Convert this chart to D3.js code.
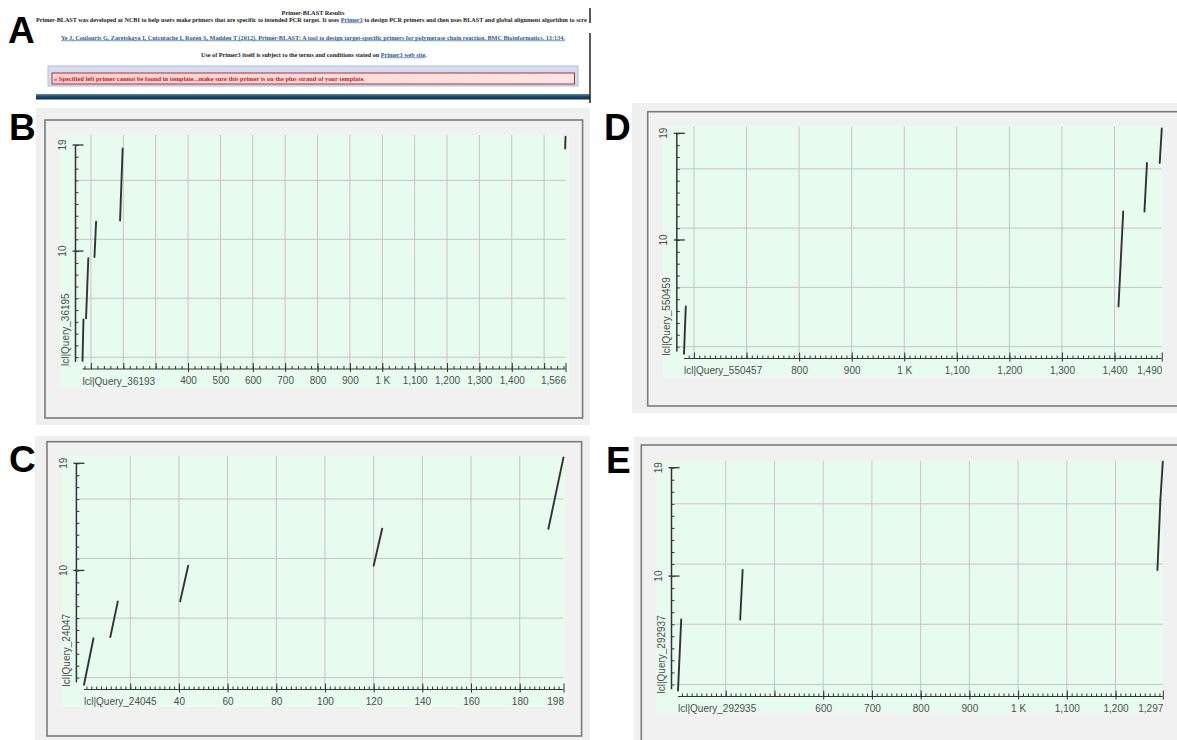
<!DOCTYPE html>
<html>
<head>
<meta charset="utf-8">
<script src="https://cdn.jsdelivr.net/npm/d3@7"></script>
<style>
    body { margin: 0; background: #fff; }
    svg { display: block; font-family: "Liberation Sans", Arial, sans-serif; }
    .page { font-family: "Liberation Serif", "Times New Roman", serif; font-weight: bold; }
    .link { fill: #2a5d9a; text-decoration: underline; }
</style>
</head>
<body>
<svg id="fig" width="1177" height="740"></svg>
<script>
// query (primer) positions on the y axis, same for every dot plot
const queryTicks = d3.range(1, 20);
const queryLabels = [10, 19];
const queryGrid = [1, 6, 11, 16];

// B
const bSubject = 'lcl|Query_36193';
const bQuery = 'lcl|Query_36195';
const bRange = [74, 1566];
const bGrid = d3.range(100, 1600, 100);
const bLabels = [400, 500, 600, 700, 800, 900, 1000, 1100, 1200, 1300, 1400, 1566];
const bSegs = [[74, 0.7, 77, 4.2], [85, 4.3, 92, 9.4], [111, 9.5, 116, 12.5], [190, 12.6, 198, 18.7], [1565, 18.7, 1566, 19.7]];

// C
const cSubject = 'lcl|Query_24045';
const cQuery = 'lcl|Query_24047';
const cRange = [1, 198];
const cGrid = d3.range(20, 200, 20);
const cLabels = [40, 60, 80, 100, 120, 140, 160, 180, 198];
const cSegs = [[1, 0.4, 4.9, 4.3], [11.8, 4.4, 14.9, 7.4], [40.5, 7.4, 43.8, 10.4], [120, 10.4, 123.5, 13.5], [191.8, 13.5, 198, 19.5]];

// D
const dSubject = 'lcl|Query_550457';
const dQuery = 'lcl|Query_550459';
const dRange = [581, 1490];
const dGrid = d3.range(600, 1500, 100);
const dLabels = [800, 900, 1000, 1100, 1200, 1300, 1400, 1490];
const dSegs = [[581, 0.4, 584.4, 4.4], [1407.6, 4.4, 1416.6, 12.4], [1457, 12.4, 1461.8, 16.5], [1486, 16.5, 1490, 19.4]];

// E
const eSubject = 'lcl|Query_292935';
const eQuery = 'lcl|Query_292937';
const eRange = [302, 1297];
const eGrid = d3.range(400, 1300, 100);
const eLabels = [600, 700, 800, 900, 1000, 1100, 1200, 1297];
const eSegs = [[302, 0.5, 308.6, 6.4], [429.6, 6.4, 434.7, 10.5], [1286, 10.5, 1292, 16.3], [1292, 16.3, 1297, 19.5]];

const svg = d3.select('#fig');

class DotPlot {
    constructor(_data, _box) {
        this.data = _data;
        this.box = _box;
        this.initVis();
        this.renderVis();
    }
    initVis() {
        let vis = this;
        let b = vis.box;
        vis.g = svg.append('g');

        vis.g.append('rect').attr('x', b.bg[0]).attr('y', b.bg[1])
            .attr('width', b.bg[2] - b.bg[0]).attr('height', b.bg[3] - b.bg[1])
            .attr('fill', '#f0f0f0');
        vis.g.append('rect').attr('x', b.frame[0]).attr('y', b.frame[1])
            .attr('width', b.frame[2] - b.frame[0]).attr('height', b.frame[3] - b.frame[1])
            .attr('fill', '#f1f1f1').attr('stroke', '#7c7c7c').attr('stroke-width', 1.6);
        vis.g.append('rect').attr('x', b.plot[0]).attr('y', b.plot[1])
            .attr('width', b.plot[2] - b.plot[0]).attr('height', b.plot[3] - b.plot[1])
            .attr('fill', '#e8fbef');

        vis.x = d3.scaleLinear().domain(vis.data.range).range(b.xr);
        vis.y = d3.scaleLinear().domain([0, 19]).range(b.yr);

        // grid
        vis.g.selectAll('.vgrid')
            .data(vis.data.grid)
            .join('line')
            .attr('class', 'vgrid')
            .attr('x1', d => vis.x(d)).attr('x2', d => vis.x(d))
            .attr('y1', b.plot[1]).attr('y2', vis.y(0))
            .attr('stroke', '#c4c7c5').attr('stroke-width', 1);
        vis.g.selectAll('.hgrid')
            .data(queryGrid)
            .join('line')
            .attr('class', 'hgrid')
            .attr('x1', b.axisX + 3).attr('x2', vis.x(vis.data.range[1]))
            .attr('y1', d => vis.y(d)).attr('y2', d => vis.y(d))
            .attr('stroke', '#c4c7c5').attr('stroke-width', 1);

        // x axis
        let x0 = vis.y(0);
        let [lo, hi] = vis.data.range;
        let minor = d3.range(Math.ceil(lo / vis.data.step) * vis.data.step, hi, vis.data.step);
        let major = vis.data.grid.concat([hi]);
        let fmt = (d) => d === 1000 ? '1 K' : d3.format(',')(d);

        vis.g.append('g')
            .attr('transform', `translate(0, ${x0})`)
            .call(d3.axisTop(vis.x).tickValues(minor).tickSize(3).tickFormat(''))
            .call(g => g.select('.domain').remove());
        vis.g.append('g')
            .attr('transform', `translate(0, ${x0})`)
            .call(d3.axisTop(vis.x).tickValues(major).tickSize(6).tickFormat(''))
            .call(g => g.select('.domain').remove());
        let xl = vis.g.append('g')
            .attr('transform', `translate(0, ${x0})`)
            .call(d3.axisBottom(vis.x).tickValues(vis.data.labels).tickSize(3).tickPadding(5).tickFormat(fmt))
            .call(g => g.select('.domain').remove());
        xl.selectAll('text').attr('font-size', 10).attr('fill', '#4e4e4e').attr('font-family', null);
        xl.selectAll('.tick').filter(d => d === hi).select('text').attr('text-anchor', 'end');
        vis.g.selectAll('.tick line').attr('stroke', '#333');

        vis.g.append('line')
            .attr('x1', vis.x(lo)).attr('x2', vis.x(hi))
            .attr('y1', x0).attr('y2', x0)
            .attr('stroke', '#333').attr('stroke-width', 1.2);
        vis.g.append('text')
            .attr('x', vis.x(lo)).attr('y', x0 + 15.5)
            .attr('font-size', 10).attr('fill', '#4e4e4e')
            .text(vis.data.subject);

        // y axis
        vis.g.append('g')
            .attr('transform', `translate(${b.axisX}, 0)`)
            .call(d3.axisRight(vis.y).tickValues(queryTicks).tickSize(3).tickFormat(''))
            .call(g => g.select('.domain').remove())
            .selectAll('line').attr('stroke', '#333');
        vis.g.selectAll('.ymajor')
            .data(queryLabels)
            .join('line')
            .attr('class', 'ymajor')
            .attr('x1', b.axisX - 3).attr('x2', b.axisX + 8)
            .attr('y1', d => vis.y(d)).attr('y2', d => vis.y(d))
            .attr('stroke', '#333').attr('stroke-width', 1.3);
        vis.g.append('line')
            .attr('x1', b.axisX).attr('x2', b.axisX)
            .attr('y1', vis.y(0.6)).attr('y2', vis.y(19))
            .attr('stroke', '#333').attr('stroke-width', 1.5);
        vis.g.selectAll('.ylabel')
            .data(queryLabels)
            .join('text')
            .attr('class', 'ylabel')
            .attr('transform', d => `translate(${b.axisX - 9.5}, ${vis.y(d)}) rotate(-90)`)
            .attr('text-anchor', 'middle')
            .attr('font-size', 10).attr('fill', '#4e4e4e')
            .text(d => d);
        vis.g.append('text')
            .attr('transform', `translate(${b.axisX - 6.5}, ${vis.y(0) - 3}) rotate(-90)`)
            .attr('font-size', 10).attr('fill', '#4e4e4e')
            .text(vis.data.query);
    }
    renderVis() {
        let vis = this;
        vis.g.selectAll('.hit')
            .data(vis.data.segs)
            .join('line')
            .attr('class', 'hit')
            .attr('x1', d => vis.x(d[0])).attr('y1', d => vis.y(d[1]))
            .attr('x2', d => vis.x(d[2])).attr('y2', d => vis.y(d[3]))
            .attr('stroke', '#333').attr('stroke-width', 1.9).attr('stroke-linecap', 'round');
    }
}

new DotPlot({ subject: bSubject, query: bQuery, range: bRange, grid: bGrid, labels: bLabels, step: 20, segs: bSegs },
    { bg: [36, 108, 590, 425], frame: [45, 120, 582.6, 418], plot: [60, 135, 569, 388], axisX: 75.5, xr: [82.5, 565.5], yr: [369, 145] });
new DotPlot({ subject: cSubject, query: cQuery, range: cRange, grid: cGrid, labels: cLabels, step: 2, segs: cSegs },
    { bg: [35, 436, 590, 740], frame: [47, 441.7, 581.6, 736], plot: [62, 456, 565.5, 707], axisX: 76.4, xr: [84, 563.5], yr: [689.5, 463.3] });
new DotPlot({ subject: dSubject, query: dQuery, range: dRange, grid: dGrid, labels: dLabels, step: 10, segs: dSegs },
    { bg: [632, 103, 1177, 413], frame: [647.7, 111.7, 1190, 406], plot: [662.6, 126.7, 1163, 376.7], axisX: 676.8, xr: [684, 1161.8], yr: [358.5, 133.3] });
new DotPlot({ subject: eSubject, query: eQuery, range: eRange, grid: eGrid, labels: eLabels, step: 10, segs: eSegs },
    { bg: [633.5, 436.7, 1177, 740], frame: [641.3, 445, 1190, 760], plot: [655.5, 460.7, 1163, 713], axisX: 671.5, xr: [678, 1162.8], yr: [696.5, 467.7] });

// panel A: screenshot of the Primer-BLAST result page
const defs = svg.append('defs');
let bar = defs.append('linearGradient').attr('id', 'barGrad').attr('x1', 0).attr('x2', 0).attr('y1', 0).attr('y2', 1);
bar.append('stop').attr('offset', '0%').attr('stop-color', '#5b87a6');
bar.append('stop').attr('offset', '45%').attr('stop-color', '#1e4d6e');
bar.append('stop').attr('offset', '100%').attr('stop-color', '#0b2f48');
let pink = defs.append('linearGradient').attr('id', 'pinkGrad');
pink.append('stop').attr('offset', '0%').attr('stop-color', '#ffcfcf');
pink.append('stop').attr('offset', '100%').attr('stop-color', '#ffe6e6');

const page = svg.append('g').attr('class', 'page');

// sizes the line so that it spans the given width, tspans flow naturally
function pageLine(x, y, width, pieces, fill, anchor) {
    let t = page.append('text').attr('x', x).attr('y', y)
        .attr('font-size', 7).attr('fill', fill).attr('text-anchor', anchor || 'start');
    for (let p of pieces) {
        let s = t.append('tspan').text(p[0]);
        if (p[1]) s.attr('class', 'link');
    }
    let w = t.node().getComputedTextLength();
    t.attr('font-size', 7 * width / w);
    return t;
}

pageLine(313, 15, 63, [['Primer-BLAST Results']], '#222', 'middle');
pageLine(36, 21.5, 552, [
    ['Primer-BLAST was developed at NCBI to help users make primers that are specific to intended PCR target. It uses '],
    ['Primer3', true],
    [' to design PCR primers and then uses BLAST and global alignment algorithm to scre']], '#222');
pageLine(61, 39.5, 505, [
    ['Ye J, Coulouris G, Zaretskaya I, Cutcutache I, Rozen S, Madden T (2012). Primer-BLAST: A tool to design target-specific primers for polymerase chain reaction. BMC Bioinformatics. 13:134.', true]], '#2a5d9a');
pageLine(201, 56.5, 226, [
    ['Use of Primer3 itself is subject to the terms and conditions stated on '],
    ['Primer3 web site', true],
    ['.']], '#222');

page.append('rect').attr('x', 48).attr('y', 66).attr('width', 530).attr('height', 20)
    .attr('fill', '#d5ddf3').attr('stroke', '#b2bddc').attr('stroke-width', 1);
page.append('rect').attr('x', 52).attr('y', 73).attr('width', 522.5).attr('height', 11)
    .attr('fill', 'url(#pinkGrad)').attr('stroke', '#a83232').attr('stroke-width', 1);
pageLine(54, 81, 311, [
    ['\u00bb Specified left primer cannot be found in template...make sure this primer is on the plus strand of your template.']], '#c41a1a');

page.append('rect').attr('x', 36).attr('y', 94).attr('width', 554).attr('height', 5.5).attr('fill', 'url(#barGrad)');
page.append('line').attr('x1', 590).attr('x2', 590).attr('y1', 8).attr('y2', 23).attr('stroke', '#222').attr('stroke-width', 1.5);
page.append('line').attr('x1', 590).attr('x2', 590).attr('y1', 33).attr('y2', 103).attr('stroke', '#222').attr('stroke-width', 1.5);

// panel letters
const letters = ['A', 'B', 'C', 'D', 'E'];
const letterX = [8, 9, 9, 604, 606];
const letterY = [43, 140, 472, 140, 473];
svg.selectAll('.letter')
    .data(letters)
    .join('text')
    .attr('class', 'letter')
    .attr('x', (d, i) => letterX[i]).attr('y', (d, i) => letterY[i])
    .attr('font-size', 37).attr('font-weight', 'bold').attr('fill', '#000')
    .text(d => d);
</script>
</body>
</html>
